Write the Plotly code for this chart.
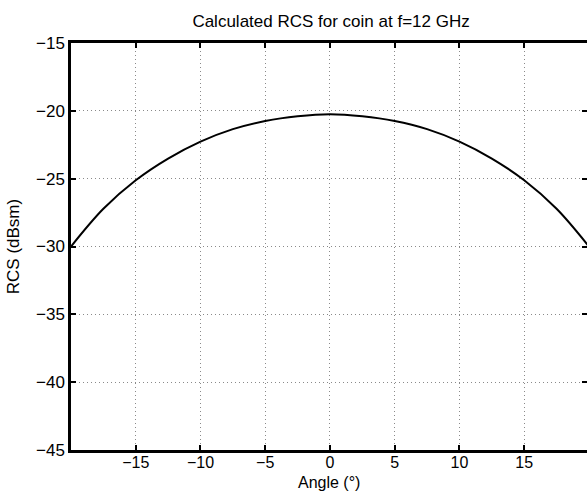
import plotly.graph_objects as go

angles = [-20, -17.5, -15, -12.5, -10, -7.5, -5, -2.5, 0, 2.5, 5, 7.5, 10, 12.5, 15, 17.5, 20]
rcs = [-30.0, -27.22, -25.12, -23.52, -22.27, -21.35, -20.75, -20.4, -20.25,
       -20.4, -20.75, -21.35, -22.27, -23.52, -25.12, -27.22, -30.0]
x_ticks = [-15, -10, -5, 0, 5, 10, 15]
y_ticks = [-45, -40, -35, -30, -25, -20, -15]

font = "Liberation Sans, Arial, Helvetica, sans-serif"
grid_color = "#8a8a8a"

fig = go.Figure()
fig.add_trace(go.Scatter(x=angles, y=rcs, mode="lines",
                         line=dict(color="black", width=2, shape="spline", smoothing=1.0),
                         showlegend=False))
# invisible trace for right-side ticks
fig.add_trace(go.Scatter(x=angles, y=rcs, mode="lines", yaxis="y2",
                         line=dict(color="rgba(0,0,0,0)", width=0),
                         showlegend=False, hoverinfo="skip"))

fig.update_layout(
    width=587, height=491,
    margin=dict(l=71, r=0, t=43, b=41),
    paper_bgcolor="white", plot_bgcolor="white",
    font=dict(family=font, size=17, color="black"),
    title=dict(text="Calculated RCS for coin at f=12 GHz", x=0.564, xanchor="center",
               y=0.957, yanchor="middle", font=dict(size=17, family=font)),
    xaxis=dict(range=[-20, 19.85], tickvals=x_ticks, ticks="inside", ticklen=5,
               tickwidth=1.5, tickcolor="black", showline=True, linecolor="black",
               linewidth=2.5, mirror="ticks", showgrid=True, gridcolor=grid_color,
               griddash="1px,3px", gridwidth=1, zeroline=False,
               tickfont=dict(size=16), ticklabelstandoff=-4),
    yaxis=dict(range=[-45, -15], tickvals=y_ticks, ticks="inside", ticklen=5,
               tickwidth=1.5, tickcolor="black", showline=True, linecolor="black",
               linewidth=2.5, mirror=False, showgrid=True, gridcolor=grid_color,
               griddash="1px,3px", gridwidth=1, zeroline=False,
               tickfont=dict(size=17),
               title=dict(text="RCS (dBsm)", standoff=13, font=dict(size=17))),
    yaxis2=dict(range=[-45, -15], tickvals=y_ticks, ticks="inside", ticklen=5,
                tickwidth=1.5, tickcolor="black", overlaying="y", side="right",
                showline=False, showgrid=False, showticklabels=False, zeroline=False),
    annotations=[dict(text="Angle (°)", xref="paper", yref="paper", x=0.5, y=0,
                      xanchor="center", yanchor="bottom", yshift=-42, borderpad=0,
                      showarrow=False, font=dict(size=16, family=font))],
)

fig.write_html("out.html")
